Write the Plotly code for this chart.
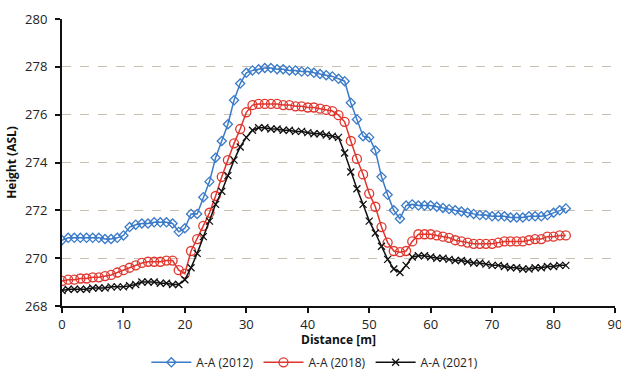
import plotly.graph_objects as go

distance = list(range(0, 83))

h2012 = [270.75, 270.85, 270.85, 270.85, 270.85, 270.85, 270.85, 270.8, 270.8, 270.85,
         270.95, 271.3, 271.4, 271.45, 271.45, 271.5, 271.5, 271.5, 271.45, 271.1,
         271.25, 271.85, 271.85, 272.55, 273.2, 274.2, 274.9, 275.6, 276.6, 277.3,
         277.75, 277.85, 277.9, 277.95, 277.95, 277.9, 277.9, 277.85, 277.85, 277.8,
         277.8, 277.75, 277.7, 277.65, 277.6, 277.5, 277.4, 276.5, 275.8, 275.1,
         275.05, 274.5, 273.4, 272.65, 272.0, 271.65, 272.2, 272.25, 272.2, 272.2,
         272.2, 272.15, 272.1, 272.05, 272.0, 271.95, 271.9, 271.85, 271.8, 271.8,
         271.75, 271.75, 271.75, 271.7, 271.7, 271.7, 271.75, 271.75, 271.75, 271.8,
         271.9, 272.0, 272.08]

h2018 = [269.05, 269.1, 269.1, 269.15, 269.15, 269.2, 269.2, 269.25, 269.3, 269.4,
         269.5, 269.6, 269.7, 269.8, 269.85, 269.85, 269.85, 269.9, 269.9, 269.5,
         269.35, 270.3, 270.8, 271.35, 271.9, 272.6, 273.4, 274.1, 274.8, 275.4,
         276.1, 276.4, 276.45, 276.45, 276.45, 276.45, 276.4, 276.4, 276.35, 276.35,
         276.3, 276.3, 276.25, 276.2, 276.15, 275.98, 275.7, 274.9, 274.15, 273.5,
         272.7, 272.15, 271.3, 270.65, 270.3, 270.25, 270.3, 270.7, 271.0, 271.0,
         271.0, 270.95, 270.9, 270.85, 270.75, 270.7, 270.65, 270.6, 270.6, 270.6,
         270.6, 270.65, 270.7, 270.7, 270.7, 270.7, 270.75, 270.8, 270.8, 270.9,
         270.9, 270.95, 270.95]

h2021 = [268.65, 268.7, 268.7, 268.7, 268.7, 268.75, 268.75, 268.75, 268.8, 268.8,
         268.8, 268.85, 268.9, 269.0, 269.0, 269.0, 268.95, 268.95, 268.9, 268.9,
         269.1, 269.6, 270.2, 270.9, 271.55, 272.25, 272.8, 273.45, 274.1, 274.65,
         275.05, 275.35, 275.45, 275.45, 275.4, 275.4, 275.35, 275.35, 275.3, 275.3,
         275.25, 275.2, 275.2, 275.15, 275.1, 275.05, 274.4, 273.6, 272.9, 272.25,
         271.55, 271.05, 270.5, 269.95, 269.55, 269.4, 269.7, 270.05, 270.1, 270.1,
         270.05, 270.0, 270.0, 269.95, 269.9, 269.9, 269.85, 269.8, 269.8, 269.75,
         269.7, 269.7, 269.65, 269.6, 269.6, 269.55, 269.55, 269.6, 269.6, 269.65,
         269.65, 269.7, 269.7]

series_names = ["A-A (2012)", "A-A (2018)", "A-A (2021)"]
x_ticks = [0, 10, 20, 30, 40, 50, 60, 70, 80, 90]
y_ticks = [268, 270, 272, 274, 276, 278, 280]

FONT = "Open Sans"

fig = go.Figure()
fig.add_trace(go.Scatter(
    x=distance, y=h2012, name=series_names[0], mode="lines+markers",
    line=dict(color="#3b7bc8", width=1.5),
    marker=dict(symbol="diamond-open", size=7, color="#3b7bc8", line=dict(width=1.3)),
))
fig.add_trace(go.Scatter(
    x=distance, y=h2018, name=series_names[1], mode="lines+markers",
    line=dict(color="#e0352d", width=1.5),
    marker=dict(symbol="circle-open", size=9, color="#e0352d", line=dict(width=1.3)),
))
fig.add_trace(go.Scatter(
    x=distance, y=h2021, name=series_names[2], mode="lines+markers",
    line=dict(color="#111111", width=1.5),
    marker=dict(symbol="x-thin-open", size=7, color="#111111", line=dict(width=1.3, color="#111111")),
))

fig.update_layout(
    width=621, height=372,
    margin=dict(l=62, r=6, t=19, b=66),
    paper_bgcolor="white", plot_bgcolor="white",
    font=dict(family=FONT, size=12, color="#222222"),
    showlegend=True,
    legend=dict(orientation="h", x=0.507, xanchor="center", xref="container",
                y=0.026, yanchor="middle", yref="container",
                font=dict(size=12, color="#222222"), itemwidth=40, tracegroupgap=0),
    xaxis=dict(
        range=[0, 90], tickvals=x_ticks, showgrid=False, zeroline=False, automargin=False,
        showline=True, linecolor="#111111", linewidth=2,
        ticks="outside", ticklen=5, tickwidth=1.5, tickcolor="#111111",
        ticklabelstandoff=0, ticklabeloverflow="allow",
        tickfont=dict(size=13, color="#222222"),
        title=dict(text="<b>Distance [m]</b>", font=dict(size=12, color="#111111"), standoff=19),
    ),
    yaxis=dict(
        range=[268, 280], tickvals=y_ticks, zeroline=False, automargin=False,
        showgrid=True, gridcolor="#cdbfb0", griddash="dash", gridwidth=1,
        showline=True, linecolor="#111111", linewidth=2,
        ticks="outside", ticklen=5, tickwidth=1.5, tickcolor="#111111",
        ticklabelstandoff=5, ticklabeloverflow="allow",
        tickfont=dict(size=13, color="#222222"),
        title=dict(text="<b>Height (ASL)</b>", font=dict(size=12, color="#111111"), standoff=6),
    ),
)

fig.write_html("out.html", config={"displayModeBar": False},
               post_script="document.body.style.margin='0';document.body.style.overflow='hidden';")
